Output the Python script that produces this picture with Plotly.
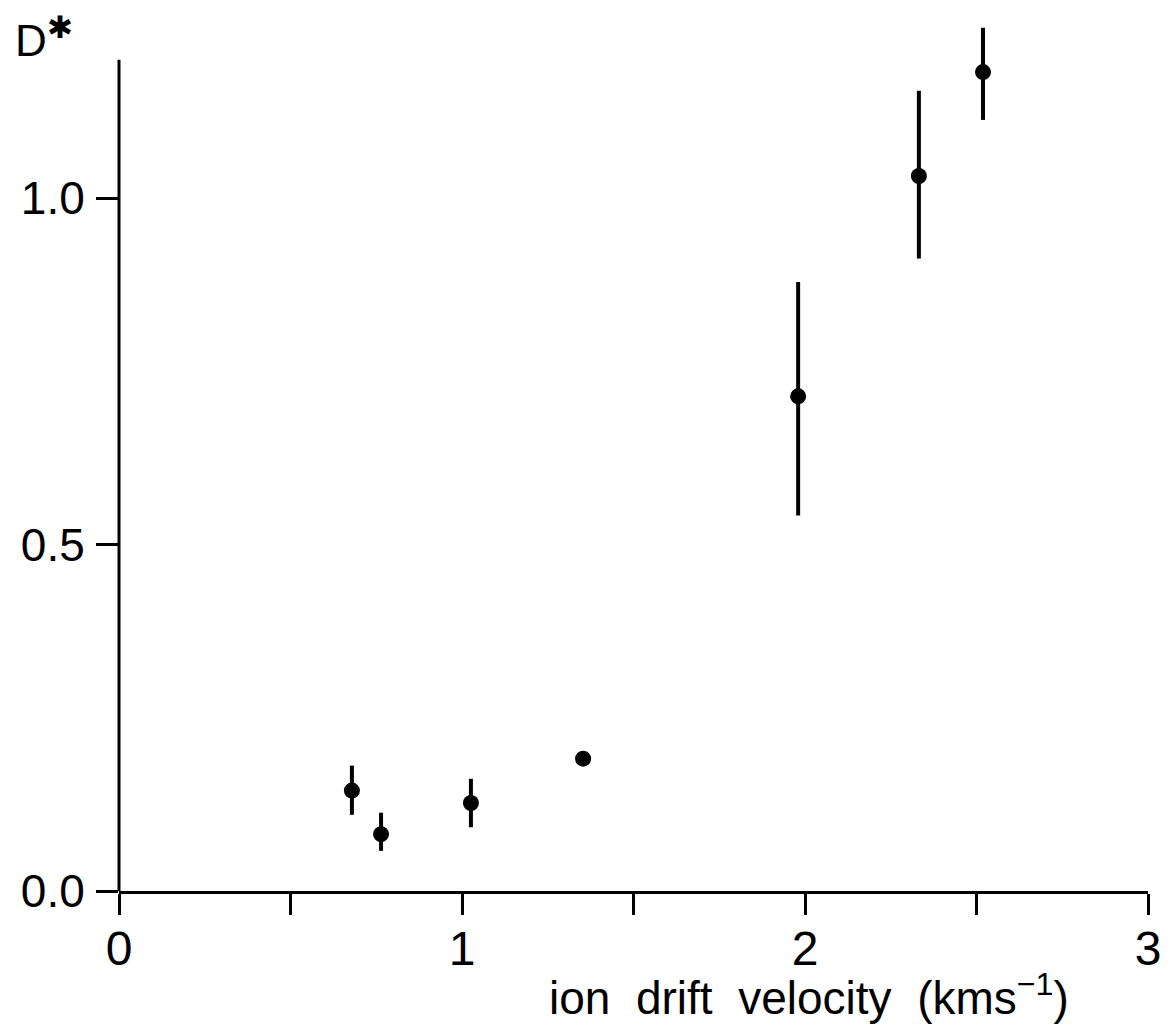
import plotly.graph_objects as go

# Data
velocity = [0.679, 0.764, 1.026, 1.353, 1.980, 2.332, 2.519]
d_star = [0.145, 0.082, 0.127, 0.191, 0.714, 1.032, 1.182]
err_plus = [0.036, 0.031, 0.035, 0.0, 0.165, 0.123, 0.064]
err_minus = [0.035, 0.024, 0.035, 0.0, 0.172, 0.119, 0.069]

x_tickvals = [0, 0.5, 1, 1.5, 2, 2.5, 3]
x_ticktext = ["0", "", "1", "", "2", "", "3"]
y_tickvals = [0.0, 0.5, 1.0]
y_ticktext = ["0.0", "0.5", "1.0"]
y_axis_top = 1.2

FONT = "Liberation Sans, Arial, sans-serif"

fig = go.Figure()
fig.add_trace(go.Scatter(
    x=velocity, y=d_star, mode="markers",
    marker=dict(color="black", size=16),
    error_y=dict(type="data", symmetric=False, array=err_plus,
                 arrayminus=err_minus, color="black", thickness=4, width=0),
    cliponaxis=False,
    showlegend=False,
))

fig.update_layout(
    width=1154, height=1019,
    margin=dict(l=111, r=14, t=17, b=136),
    paper_bgcolor="white", plot_bgcolor="white",
    font=dict(family=FONT, color="black"),
)
fig.update_xaxes(
    range=[0, 3], tickvals=x_tickvals, ticktext=x_ticktext,
    showline=True, linecolor="black", linewidth=3,
    ticks="outside", ticklen=21, tickwidth=3, tickcolor="black",
    showgrid=False, zeroline=False, automargin=False,
    tickfont=dict(size=48, family=FONT),
    ticklabelstandoff=-8,
)
fig.update_yaxes(
    range=[0, 1.25], tickvals=y_tickvals, ticktext=y_ticktext,
    showline=False,
    ticks="outside", ticklen=22, tickwidth=3, tickcolor="black",
    showgrid=False, zeroline=False, automargin=False,
    tickfont=dict(size=46, family=FONT),
    ticklabelstandoff=2,
)
# visible y-axis line stops at 1.2 as in the original
fig.add_shape(type="line", xref="paper", yref="y", x0=0, x1=0,
              y0=0, y1=y_axis_top, line=dict(color="black", width=3))
fig.add_annotation(
    text="ion  drift  velocity  (kms<sup>−1</sup>)",
    xref="paper", yref="paper", x=0.671, y=-0.156,
    xanchor="center", yanchor="bottom", showarrow=False,
    font=dict(size=46, family=FONT, color="black"),
)
fig.add_annotation(
    text="D<sup>✱</sup>",
    xref="paper", yref="paper", x=-0.103, y=0.985,
    xanchor="left", yanchor="middle", showarrow=False,
    font=dict(size=44, family=FONT, color="black"),
)

fig.write_html("out.html")
